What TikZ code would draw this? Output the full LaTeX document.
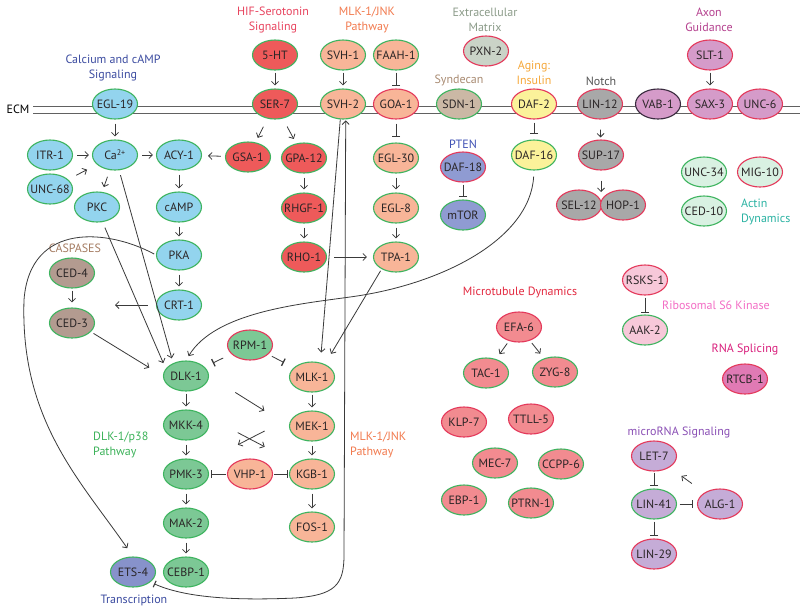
\documentclass[tikz,border=0pt]{standalone}
\usepackage{fontspec}
\setmainfont{PT Sans}
\usetikzlibrary{shapes.geometric,arrows.meta,calc}
\definecolor{txt}{HTML}{2A2526}
\definecolor{lc}{HTML}{3A3A3A}
\definecolor{bG}{HTML}{3EB45F}
\definecolor{bR}{HTML}{E4395B}
\definecolor{bK}{HTML}{3A2B3F}
\definecolor{fCalc}{HTML}{93D4EE}
\definecolor{fSer}{HTML}{EE5A5A}
\definecolor{fSal}{HTML}{F8B598}
\definecolor{fGrn}{HTML}{7CC895}
\definecolor{fLgr}{HTML}{D9F1E2}
\definecolor{fGry}{HTML}{A8A8A8}
\definecolor{fAxn}{HTML}{D59BC9}
\definecolor{fYel}{HTML}{FBF29A}
\definecolor{fPer}{HTML}{8F9BD2}
\definecolor{fTan}{HTML}{CBB8A5}
\definecolor{fEcm}{HTML}{CAD3C7}
\definecolor{fCed}{HTML}{B39B90}
\definecolor{fMic}{HTML}{F28B90}
\definecolor{fLpk}{HTML}{F7C8D9}
\definecolor{fMag}{HTML}{E07AB4}
\definecolor{fLav}{HTML}{C5ACD7}
\definecolor{fEts}{HTML}{8792CB}
\definecolor{cCalc}{HTML}{3B4BA0}
\definecolor{cHIF}{HTML}{E8435E}
\definecolor{cMLK}{HTML}{F27A4E}
\definecolor{cECMt}{HTML}{8C9C8A}
\definecolor{cSyn}{HTML}{A98B72}
\definecolor{cAging}{HTML}{F6A83A}
\definecolor{cNotch}{HTML}{555555}
\definecolor{cAxon}{HTML}{B5418F}
\definecolor{cPTEN}{HTML}{3F51B5}
\definecolor{cActin}{HTML}{2BB3A3}
\definecolor{cCasp}{HTML}{A57C62}
\definecolor{cMicro}{HTML}{E3283F}
\definecolor{cRibo}{HTML}{F36DC5}
\definecolor{cRNA}{HTML}{D91F7C}
\definecolor{cmiR}{HTML}{8A4FB5}
\definecolor{cDLK}{HTML}{3DB35A}
\newcommand{\mkgene}[5]{\node[gene,#1] (#2) at (#3,#4) {\makebox[0pt]{#5}};}
\begin{document}
\begin{tikzpicture}[x=1pt,y=-1pt,
  gene/.style={ellipse, draw, line width=1.1pt, minimum width=45pt, minimum height=30pt, inner sep=0pt, font=\fontsize{12}{14}\selectfont, text=txt},
  gb/.style={draw=bG}, rb/.style={draw=bR},
  lab/.style={font=\fontsize{12}{15}\selectfont, align=center, inner sep=0pt},
  arr/.style={draw=lc, line width=0.8pt, -{Straight Barb[length=3.5pt,width=7pt]}, shorten <=4pt, shorten >=3pt},
  inh/.style={draw=lc, line width=0.8pt, -{Bar[width=8pt,line width=1.3pt]}, shorten <=3pt, shorten >=3pt},
  ecm/.style={draw=lc!80, line width=0.8pt}
]
\useasboundingbox (0,0) rectangle (800,614);
\fill[white] (0,0) rectangle (800,614);

% ECM membrane
\node[lab] (ecmlab) at (18,109) {ECM};
\draw[ecm] (33,106) -- (800,106);
\draw[ecm] (33,113) -- (800,113);

% labels
\node[lab,text=cCalc] (tcalc) at (113,67.5) {Calcium and cAMP\\Signaling};
\node[lab,text=cHIF] (thif) at (273,20) {HIF-Serotonin\\Signaling};
\node[lab,text=cMLK] (tmlk) at (367,20) {MLK-1/JNK\\Pathway};
\node[lab,text=cECMt] (tecm) at (485,20) {Extracellular\\Matrix};
\node[lab,text=cSyn] (tsyn) at (459,80) {Syndecan};
\node[lab,text=cAging] (tage) at (534,73) {Aging:\\Insulin};
\node[lab,text=cNotch] (tnotch) at (601,81) {Notch};
\node[lab,text=cAxon] (taxon) at (709,20) {Axon\\Guidance};
\node[lab,text=cPTEN] (tpten) at (463,144) {PTEN};
\node[lab,text=cActin,anchor=west,align=left] (tactin) at (741,211.5) {Actin\\Dynamics};
\node[lab,text=cCasp] (tcasp) at (75,248) {CASPASES};
\node[lab,text=cMicro] (tmicro) at (520,292) {Microtubule Dynamics};
\node[lab,text=cRibo,anchor=west] (tribo) at (662,305) {Ribosomal S6 Kinase};
\node[lab,text=cRNA] (trna) at (745,349) {RNA Splicing};
\node[lab,text=cmiR] (tmir) at (679,432) {microRNA Signaling};
\node[lab,text=cDLK,anchor=west,align=left] (tdlk) at (93,444.5) {DLK-1/p38\\Pathway};
\node[lab,text=cMLK,anchor=west,align=left] (tmlk2) at (350,444.5) {MLK-1/JNK\\Pathway};
\node[lab,text=cCalc] (ttrans) at (134,600) {Transcription};

% calcium / cAMP
\mkgene{gb,fill=fCalc}{egl}{115}{104}{EGL-19}
\mkgene{gb,fill=fCalc}{itr}{50}{155}{ITR-1}
\mkgene{gb,fill=fCalc}{unc68}{50}{189}{UNC-68}
\mkgene{gb,fill=fCalc}{ca}{115}{155}{Ca\textsuperscript{2+}}
\mkgene{gb,fill=fCalc}{acy}{179}{155}{ACY-1}
\mkgene{gb,fill=fCalc}{pkc}{97}{207}{PKC}
\mkgene{gb,fill=fCalc}{camp}{179}{207}{cAMP}
\mkgene{gb,fill=fCalc}{pka}{179}{255}{PKA}
\mkgene{gb,fill=fCalc}{crt}{179}{305}{CRT-1}
% serotonin
\mkgene{gb,fill=fSer}{ht}{275}{55}{5-HT}
\mkgene{gb,fill=fSer}{ser}{275}{104}{SER-7}
\mkgene{gb,fill=fSer}{gsa}{248}{157}{GSA-1}
\mkgene{gb,fill=fSer}{gpa}{304}{158}{GPA-12}
\mkgene{gb,fill=fSer}{rhgf}{304}{208}{RHGF-1}
\mkgene{gb,fill=fSer}{rho}{304}{257}{RHO-1}
% MLK top
\mkgene{gb,fill=fSal}{svh1}{343}{55}{SVH-1}
\mkgene{gb,fill=fSal}{faah}{396}{55}{FAAH-1}
\mkgene{gb,fill=fSal}{svh2}{343}{104}{SVH-2}
\mkgene{rb,fill=fSal}{goa}{396}{104}{GOA-1}
\mkgene{gb,fill=fSal}{egl30}{396}{158}{EGL-30}
\mkgene{gb,fill=fSal}{egl8}{396}{208}{EGL-8}
\mkgene{gb,fill=fSal}{tpa}{396}{257}{TPA-1}
% ECM, syndecan, insulin, PTEN
\mkgene{rb,fill=fEcm}{pxn}{486}{51}{PXN-2}
\mkgene{gb,fill=fTan}{sdn}{459}{104}{SDN-1}
\mkgene{rb,fill=fYel}{daf2}{534}{104}{DAF-2}
\mkgene{gb,fill=fYel}{daf16}{534}{155}{DAF-16}
\mkgene{rb,fill=fPer}{daf18}{463}{167}{DAF-18}
\mkgene{gb,fill=fPer}{mtor}{463}{215}{mTOR}
% Notch
\mkgene{rb,fill=fGry}{lin12}{600}{104}{LIN-12}
\mkgene{rb,fill=fGry}{sup}{601}{155}{SUP-17}
\mkgene{rb,fill=fGry}{sel}{579}{205}{SEL-12}
\mkgene{rb,fill=fGry}{hop}{623}{205}{HOP-1}
% Axon guidance
\mkgene{draw=bK,fill=fAxn}{vab}{658}{104}{VAB-1}
\mkgene{rb,fill=fAxn}{sax}{710}{104}{SAX-3}
\mkgene{rb,fill=fAxn}{unc6}{760}{104}{UNC-6}
\mkgene{rb,fill=fAxn}{slt}{710}{55}{SLT-1}
% Actin
\mkgene{gb,fill=fLgr}{unc34}{704}{172}{UNC-34}
\mkgene{rb,fill=fLgr}{mig}{760}{172}{MIG-10}
\mkgene{gb,fill=fLgr}{ced10}{704}{211}{CED-10}
% caspases
\mkgene{gb,fill=fCed}{ced4}{72}{273}{CED-4}
\mkgene{gb,fill=fCed}{ced3}{72}{323}{CED-3}
% DLK
\mkgene{gb,fill=fGrn}{dlk}{186}{376}{DLK-1}
\mkgene{rb,fill=fGrn}{rpm}{250}{345}{RPM-1}
\mkgene{gb,fill=fGrn}{mkk}{186}{425}{MKK-4}
\mkgene{gb,fill=fGrn}{pmk}{186}{474}{PMK-3}
\mkgene{gb,fill=fGrn}{mak}{186}{523}{MAK-2}
\mkgene{gb,fill=fGrn}{cebp}{186}{572}{CEBP-1}
\mkgene{gb,fill=fEts}{ets}{133}{572}{ETS-4}
\mkgene{rb,fill=fSal}{vhp}{250}{474}{VHP-1}
% MLK
\mkgene{gb,fill=fSal}{mlk}{312}{377}{MLK-1}
\mkgene{gb,fill=fSal}{mek}{312}{426}{MEK-1}
\mkgene{gb,fill=fSal}{kgb}{312}{474}{KGB-1}
\mkgene{gb,fill=fSal}{fos}{312}{527}{FOS-1}
% microtubule
\mkgene{rb,fill=fMic}{efa}{519}{327}{EFA-6}
\mkgene{gb,fill=fMic}{tac}{486}{373}{TAC-1}
\mkgene{gb,fill=fMic}{zyg}{555}{372}{ZYG-8}
\mkgene{rb,fill=fMic}{klp}{464}{422}{KLP-7}
\mkgene{rb,fill=fMic}{ttll}{531}{419}{TTLL-5}
\mkgene{gb,fill=fMic}{mec}{495}{463}{MEC-7}
\mkgene{gb,fill=fMic}{ccpp}{561}{464}{CCPP-6}
\mkgene{gb,fill=fMic}{ebp}{464}{500}{EBP-1}
\mkgene{gb,fill=fMic}{ptrn}{531}{503}{PTRN-1}
% S6K, RNA splicing
\mkgene{rb,fill=fLpk}{rsks}{645}{280}{RSKS-1}
\mkgene{gb,fill=fLpk}{aak}{645}{330}{AAK-2}
\mkgene{rb,fill=fMag}{rtcb}{745}{379}{RTCB-1}
% microRNA
\mkgene{rb,fill=fLav}{let}{654}{456}{LET-7}
\mkgene{gb,fill=fLav}{lin41}{654}{504}{LIN-41}
\mkgene{rb,fill=fLav}{alg}{720}{504}{ALG-1}
\mkgene{rb,fill=fLav}{lin29}{654}{554}{LIN-29}

\coordinate (casp) at (115,305);
\coordinate (selhop) at (601,192);

% edges: calcium
\draw[arr] (egl) -- (ca);
\draw[arr] (itr) -- (ca);
\draw[arr,shorten <=9pt,shorten >=11pt] (unc68) -- (ca);
\draw[arr] (ca) -- (acy);
\draw[arr,shorten >=6pt] (gsa) -- (acy);
\draw[arr,shorten <=7pt,shorten >=5pt] (ca) -- (pkc);
\draw[arr] (acy) -- (camp);
\draw[arr] (camp) -- (pka);
\draw[arr] (pka) -- (crt);
\draw[arr,shorten <=8pt,shorten >=0pt] (crt) -- (casp);
\draw[arr,shorten <=2pt,shorten >=5pt] (ced4) -- (ced3);
\draw[arr,shorten <=3pt,shorten >=16pt] (ced3.-25) -- (dlk.west);
\draw[arr,shorten <=6pt,shorten >=6pt] (pkc.-70) -- (dlk.160);
\draw[arr,shorten <=5pt,shorten >=5pt] (ca.-75) -- (dlk.135);
\draw[arr,shorten <=2pt,shorten >=10pt] (pka.west) .. controls (110,230) and (30,220) .. (24,300) .. controls (20,420) and (80,480) .. (ets.north);
% serotonin
\draw[arr,shorten <=2pt] (ht) -- (ser);
\draw[arr,shorten <=9pt,shorten >=5pt] (ser) -- (gsa);
\draw[arr,shorten <=9pt,shorten >=5pt] (ser) -- (gpa);
\draw[arr] (gpa) -- (rhgf);
\draw[arr] (rhgf) -- (rho);
\draw[arr,shorten <=7pt,shorten >=6pt] (rho) -- (tpa);
% MLK top
\draw[arr,shorten <=2pt] (svh1) -- (svh2);
\draw[inh,shorten <=2pt,shorten >=2pt] (faah) -- (goa);
\draw[inh,shorten <=4pt,shorten >=5pt] (goa) -- (egl30);
\draw[arr] (egl30) -- (egl8);
\draw[arr] (egl8) -- (tpa);
\draw[arr,shorten <=0pt,shorten >=10pt] (svh2.-100) -- (mlk.60);
\draw[arr,shorten <=2pt,shorten >=12pt] (tpa.-140) -- (mlk.45);
% insulin / PTEN / notch / axon
\draw[inh,shorten <=3pt,shorten >=5pt] (daf2) -- (daf16);
\draw[inh,shorten <=2pt,shorten >=2pt] (daf18) -- (mtor);
\draw[arr,shorten <=10pt,shorten >=2pt] (lin12) -- (sup);
\draw[arr,shorten <=10pt,shorten >=0pt] (sup) -- (selhop);
\draw[arr,shorten <=2pt] (slt) -- (sax);
\draw[arr,shorten <=6pt,shorten >=5pt] (daf16.south) .. controls (530,240) and (440,285) .. (350,297) .. controls (300,304) and (215,312) .. (dlk.north);
% DLK / MLK
\draw[inh,shorten <=9pt,shorten >=9pt] (rpm) -- (dlk);
\draw[inh,shorten <=4pt,shorten >=11pt] (rpm) -- (mlk);
\draw[arr,shorten <=31pt,shorten >=29pt] (dlk.east) -- (mek.west);
\draw[arr,shorten <=40pt,shorten >=35pt] (mkk.north east) -- (kgb.north west);
\draw[arr,shorten <=35pt,shorten >=40pt] (mek.north west) -- (pmk.north east);
\draw[arr,shorten <=2pt] (dlk) -- (mkk);
\draw[arr] (mkk) -- (pmk);
\draw[arr] (pmk) -- (mak);
\draw[arr] (mak) -- (cebp);
\draw[inh,shorten <=1pt,shorten >=1.5pt] (vhp) -- (pmk);
\draw[inh,shorten <=1pt,shorten >=1pt] (vhp) -- (kgb);
\draw[arr,shorten <=2pt] (mlk) -- (mek);
\draw[arr] (mek) -- (kgb);
\draw[arr] (kgb) -- (fos);
\draw[draw=lc, line width=0.8pt, {Bar[width=7pt,line width=1.1pt]}-{Straight Barb[length=3.5pt,width=7pt]}, shorten <=4pt, shorten >=1pt] (ets.-30) .. controls (190,600) and (250,600) .. (295,598) .. controls (335,595) and (344,585) .. (344,555) -- (svh2.-80);
% microtubule
\draw[arr,shorten <=3pt,shorten >=6pt] (efa) -- (tac);
\draw[arr,shorten <=3pt,shorten >=6pt] (efa) -- (zyg);
% S6K
\draw[inh,shorten <=2pt,shorten >=1pt] (rsks) -- (aak);
% microRNA
\draw[inh,shorten <=1pt,shorten >=2pt] (let) -- (lin41);
\draw[inh,shorten <=2.5pt,shorten >=3.5pt] (lin41) -- (alg);
\draw[inh,shorten <=2pt,shorten >=2pt] (lin41) -- (lin29);
\draw[arr,shorten <=15.5pt,shorten >=14.5pt] (alg) -- (let);
\end{tikzpicture}
\end{document}
